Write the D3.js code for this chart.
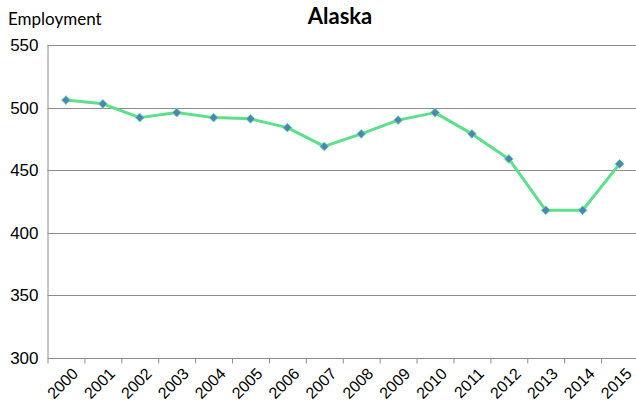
<!DOCTYPE html>
<html>
<head>
<meta charset="utf-8">
<script src="https://cdn.jsdelivr.net/npm/d3@7"></script>
<style>
  body { margin: 0; background: #fff; }
  svg { font-family: Lato, 'Open Sans', sans-serif; }
  .grid line { stroke: #8c8c8c; stroke-width: 1; }
  .axis path, .axis line { stroke: #8c8c8c; }
  .axis text { fill: #000; }
</style>
</head>
<body>
<div id="chart"></div>
<script>
const years = ['2000','2001','2002','2003','2004','2005','2006','2007','2008','2009','2010','2011','2012','2013','2014','2015']
const employment = [506, 503, 492, 496, 492, 491, 484, 469, 479, 490, 496, 479, 459, 418, 418, 455]
const yTicks = [300, 350, 400, 450, 500, 550]

const width = 636, height = 402
const layout = { left: 47.5, right: -2, top: 45, bottom: 44 }
const w = width - layout.left - layout.right
const h = height - layout.top - layout.bottom

const svg = d3.select('#chart').append('svg')
    .attr('width', width)
    .attr('height', height)

const g = svg.append('g')
    .attr('transform', 'translate(' + layout.left + ',' + layout.top + ')')

const xScale = d3.scaleBand().domain(years).range([0, w])
const yScale = d3.scaleLinear().domain([300, 550]).range([h, 0])

// gridlines
g.append('g').attr('class', 'grid')
    .selectAll('line')
    .data(yTicks.filter(t => t !== 300))
    .enter()
    .append('line')
    .attr('x1', 0).attr('x2', w)
    .attr('y1', t => Math.round(yScale(t)) + 0.5)
    .attr('y2', t => Math.round(yScale(t)) + 0.5)

// y axis
const yAxisEl = g.append('g')
    .attr('class', 'axis axis-y')
    .call(d3.axisLeft(yScale).tickValues(yTicks).tickSize(0).tickPadding(9))
yAxisEl.select('.domain').attr('d', `M0.5,0 V${h + 0.5}`)
yAxisEl.selectAll('text').style('font-size', '17px')

// x axis
const xAxisEl = g.append('g')
    .attr('class', 'axis axis-x')
    .attr('transform', 'translate(0,' + (Math.round(h) + 0.5) + ')')
    .call(d3.axisBottom(xScale).tickSize(0))
xAxisEl.select('.domain').attr('d', `M0,0 H${w}`)
xAxisEl.selectAll('.tick line').remove()
xAxisEl.selectAll('.tickmark')
    .data(years.concat(['end']))
    .enter()
    .append('line')
    .attr('class', 'tickmark')
    .attr('x1', (d, i) => i * xScale.step() + 0.5)
    .attr('x2', (d, i) => i * xScale.step() + 0.5)
    .attr('y1', 0).attr('y2', 5)
xAxisEl.selectAll('.tick text')
    .style('font-size', '16px')
    .style('text-anchor', 'end')
    .attr('dy', 0)
    .attr('transform', 'translate(11,14) rotate(-45)')

// line
const line = d3.line()
    .x((d, i) => xScale(years[i]) + xScale.bandwidth() / 2)
    .y(d => yScale(d))
g.append('path')
    .datum(employment)
    .attr('fill', 'none')
    .attr('stroke', '#5ce08b')
    .attr('stroke-width', 3)
    .attr('stroke-linejoin', 'round')
    .attr('d', line)

// diamond markers
g.selectAll('.marker')
    .data(employment)
    .enter()
    .append('path')
    .attr('class', 'marker')
    .attr('d', d3.symbol().type(d3.symbolDiamond2).size(48))
    .attr('transform', (d, i) => `translate(${xScale(years[i]) + xScale.bandwidth() / 2},${yScale(d)})`)
    .attr('fill', '#4f81bd')
    .attr('stroke', '#5ce08b')
    .attr('stroke-width', 1)

// titles
svg.append('text')
    .attr('x', 340).attr('y', 24)
    .attr('text-anchor', 'middle')
    .style('font-size', '22px')
    .style('font-weight', 'bold')
    .text('Alaska')

svg.append('text')
    .attr('x', 8).attr('y', 25)
    .style('font-size', '17px')
    .text('Employment')
</script>
</body>
</html>
